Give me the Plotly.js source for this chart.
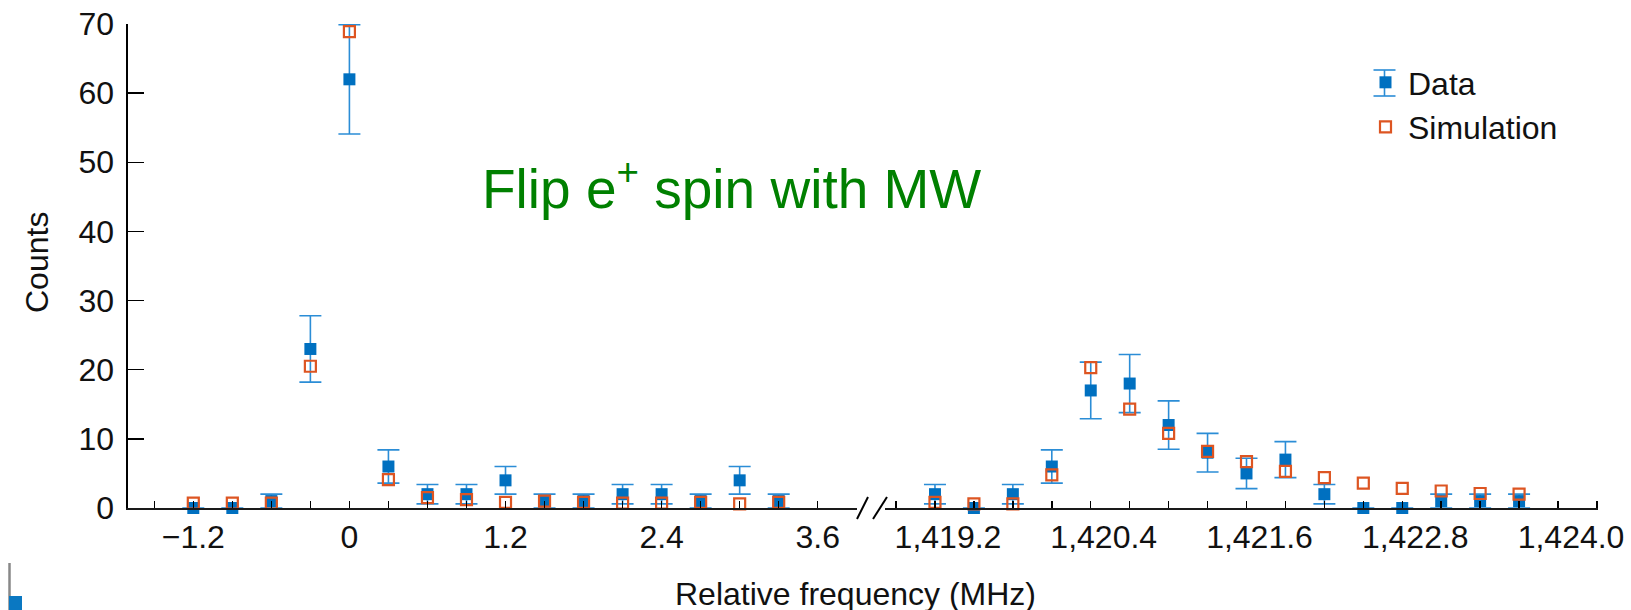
<!DOCTYPE html>
<html>
<head>
<meta charset="utf-8">
<script src="https://cdn.plot.ly/plotly-3.0.1.min.js"></script>
<style>html,body{margin:0;padding:0;background:#fff;}#chart{width:1631px;height:610px;}</style>
</head>
<body>
<div id="chart"></div>
<script>
// Left segment (relative frequency, MHz)
const freqLeft = [-1.2, -0.9, -0.6, -0.3, 0, 0.3, 0.6, 0.9, 1.2, 1.5, 1.8, 2.1, 2.4, 2.7, 3.0, 3.3];
const dataLeft = [0, 0, 1, 23, 62, 6, 2, 2, 4, 1, 1, 2, 2, 1, 4, 1];
const errLeft  = [0, 0, 1, 4.8, 7.9, 2.4, 1.4, 1.4, 2, 1, 1, 1.4, 1.4, 1, 2, 1];
const simLeft  = [0.7, 0.7, 0.7, 20.5, 68.9, 4.1, 1.5, 1.2, 0.8, 1.0, 0.8, 0.7, 0.7, 0.8, 0.6, 0.8];

// Right segment
const freqRight = [1419.2, 1419.5, 1419.8, 1420.1, 1420.4, 1420.7, 1421.0, 1421.3, 1421.6, 1421.9, 1422.2, 1422.5, 1422.8, 1423.1, 1423.4, 1423.7];
const dataRight = [2, 0, 2, 6, 17, 18, 12, 8, 5, 7, 2, 0, 0, 1, 1, 1];
const errRight  = [1.4, 0, 1.4, 2.4, 4.1, 4.2, 3.5, 2.8, 2.2, 2.6, 1.4, 0, 0, 1, 1, 1];
const simRight  = [0.8, 0.6, 0.6, 4.8, 20.3, 14.3, 10.8, 8.2, 6.7, 5.3, 4.4, 3.6, 2.85, 2.46, 2.1, 2.0];

const tickValsLeft = [-1.2, 0, 1.2, 2.4, 3.6];
const tickTextLeft = ["\u22121.2", "0", "1.2", "2.4", "3.6"];
const tickValsRight = [1419.2, 1420.4, 1421.6, 1422.8, 1424.0];
const tickTextRight = ["1,419.2", "1,420.4", "1,421.6", "1,422.8", "1,424.0"];
const yTickVals = [0, 10, 20, 30, 40, 50, 60, 70];

const FONT = "Liberation Sans, Arial, Helvetica, sans-serif";
const BLUE = "#0070C0";
const ERRBLUE = "#2B8DD6";
const ORANGE = "#DD5522";

function dataTrace(x, y, err, xa, show) {
  return {
    type: "scatter", mode: "markers", name: "Data", x: x, y: y,
    xaxis: xa, yaxis: "y", showlegend: show, legendgroup: "d", cliponaxis: false,
    marker: {symbol: "square", size: 12, color: BLUE},
    error_y: {type: "data", array: err, visible: true, color: ERRBLUE, thickness: 1.6, width: 11}
  };
}
function simTrace(x, y, xa, show) {
  return {
    type: "scatter", mode: "markers", name: "Simulation", x: x, y: y,
    xaxis: xa, yaxis: "y", showlegend: show, legendgroup: "s", cliponaxis: false,
    marker: {symbol: "square-open", size: 11, color: ORANGE, line: {width: 2.2, color: ORANGE}}
  };
}

const traces = [
  dataTrace(freqLeft, dataLeft, errLeft, "x", true),
  dataTrace(freqRight, dataRight, errRight, "x2", false),
  simTrace(freqLeft, simLeft, "x", true),
  simTrace(freqRight, simRight, "x2", false)
];

const L = 128, R = 33, T = 24, B = 102, W = 1631, H = 610;
const PW = W - L - R, PH = H - T - B;
const px = v => (v - L) / PW;
const py = v => 1 - (v - T) / PH;

const xCommon = {
  showline: true, linecolor: "#1a1a1a", linewidth: 1.5,
  ticks: "inside", ticklen: 7, tickwidth: 1.5, tickcolor: "#000",
  tickmode: "array", showgrid: false, zeroline: false,
  tickfont: {family: FONT, size: 32, color: "#111"},
  anchor: "y", fixedrange: true
};

// legend glyph error bar (decoration beside the legend marker)
const LGX = 1384.5, LGY = 83;
const legendErr = [
  {type: "line", xref: "paper", yref: "paper", x0: px(LGX), y0: py(LGY - 13), x1: px(LGX), y1: py(LGY + 13), line: {color: ERRBLUE, width: 1.6}},
  {type: "line", xref: "paper", yref: "paper", x0: px(LGX - 11), y0: py(LGY - 13), x1: px(LGX + 11), y1: py(LGY - 13), line: {color: ERRBLUE, width: 1.6}},
  {type: "line", xref: "paper", yref: "paper", x0: px(LGX - 11), y0: py(LGY + 13), x1: px(LGX + 11), y1: py(LGY + 13), line: {color: ERRBLUE, width: 1.6}}
];

const layout = {
  width: W, height: H,
  margin: {l: L, r: R, t: T, b: B, pad: 0},
  paper_bgcolor: "#fff", plot_bgcolor: "#fff",
  font: {family: FONT, size: 32, color: "#111"},
  showlegend: true,
  legend: {x: px(1363), y: py(55), xanchor: "left", yanchor: "top", itemwidth: 35,
           font: {family: FONT, size: 32, color: "#111"}, bgcolor: "rgba(0,0,0,0)",
           tracegroupgap: 0},
  xaxis: Object.assign({}, xCommon, {
    domain: [0, px(857)], range: [-1.702, 3.902],
    tickvals: tickValsLeft, ticktext: tickTextLeft,
    minor: {tickmode: "linear", tick0: 0, dtick: 0.3, ticks: "inside", ticklen: 7, tickwidth: 1.5, tickcolor: "#000", showgrid: false}
  }),
  xaxis2: Object.assign({}, xCommon, {
    domain: [px(885), 1], range: [1418.815, 1424.308],
    tickvals: tickValsRight, ticktext: tickTextRight, ticklabelshift: 13,
    minor: {tickmode: "linear", tick0: 1419.2, dtick: 0.3, ticks: "inside", ticklen: 7, tickwidth: 1.5, tickcolor: "#000", showgrid: false}
  }),
  yaxis: {
    domain: [0, 1], range: [0, 70], anchor: "x",
    showline: true, linecolor: "#000", linewidth: 2.5,
    ticks: "inside", ticklen: 16, tickwidth: 1.5, tickcolor: "#000",
    tickmode: "array", tickvals: yTickVals, ticklabelstandoff: 5,
    showgrid: false, zeroline: false, fixedrange: true,
    tickfont: {family: FONT, size: 32, color: "#111"}
  },
  annotations: [
    {text: "Counts", xref: "paper", yref: "paper", x: px(37), y: py(263), xanchor: "center", yanchor: "middle",
     textangle: -90, showarrow: false, font: {family: FONT, size: 32, color: "#111"}},
    {text: "Relative frequency (MHz)", xref: "paper", yref: "paper", x: px(855), y: py(594), xanchor: "center", yanchor: "middle",
     showarrow: false, font: {family: FONT, size: 32, color: "#111"}},
    {text: "Flip e<sup>+</sup> spin with MW", xref: "paper", yref: "paper", x: px(731), y: py(185), xanchor: "center", yanchor: "middle",
     showarrow: false, font: {family: FONT, size: 55, color: "#008000"}}
  ],
  shapes: [
    {type: "line", xref: "paper", yref: "paper", x0: px(857), y0: py(519), x1: px(868), y1: py(497), line: {color: "#000", width: 2}},
    {type: "line", xref: "paper", yref: "paper", x0: px(873), y0: py(519), x1: px(887), y1: py(497), line: {color: "#000", width: 2}},
    {type: "line", xref: "paper", yref: "paper", x0: px(9.5), y0: py(563), x1: px(9.5), y1: py(610), line: {color: "#888", width: 2.5}},
    {type: "rect", xref: "paper", yref: "paper", x0: px(9), y0: py(596), x1: px(22), y1: py(612), line: {width: 0}, fillcolor: "#0A78C2"}
  ].concat(legendErr)
};

Plotly.newPlot("chart", traces, layout, {displayModeBar: false, staticPlot: true});
</script>
</body>
</html>
